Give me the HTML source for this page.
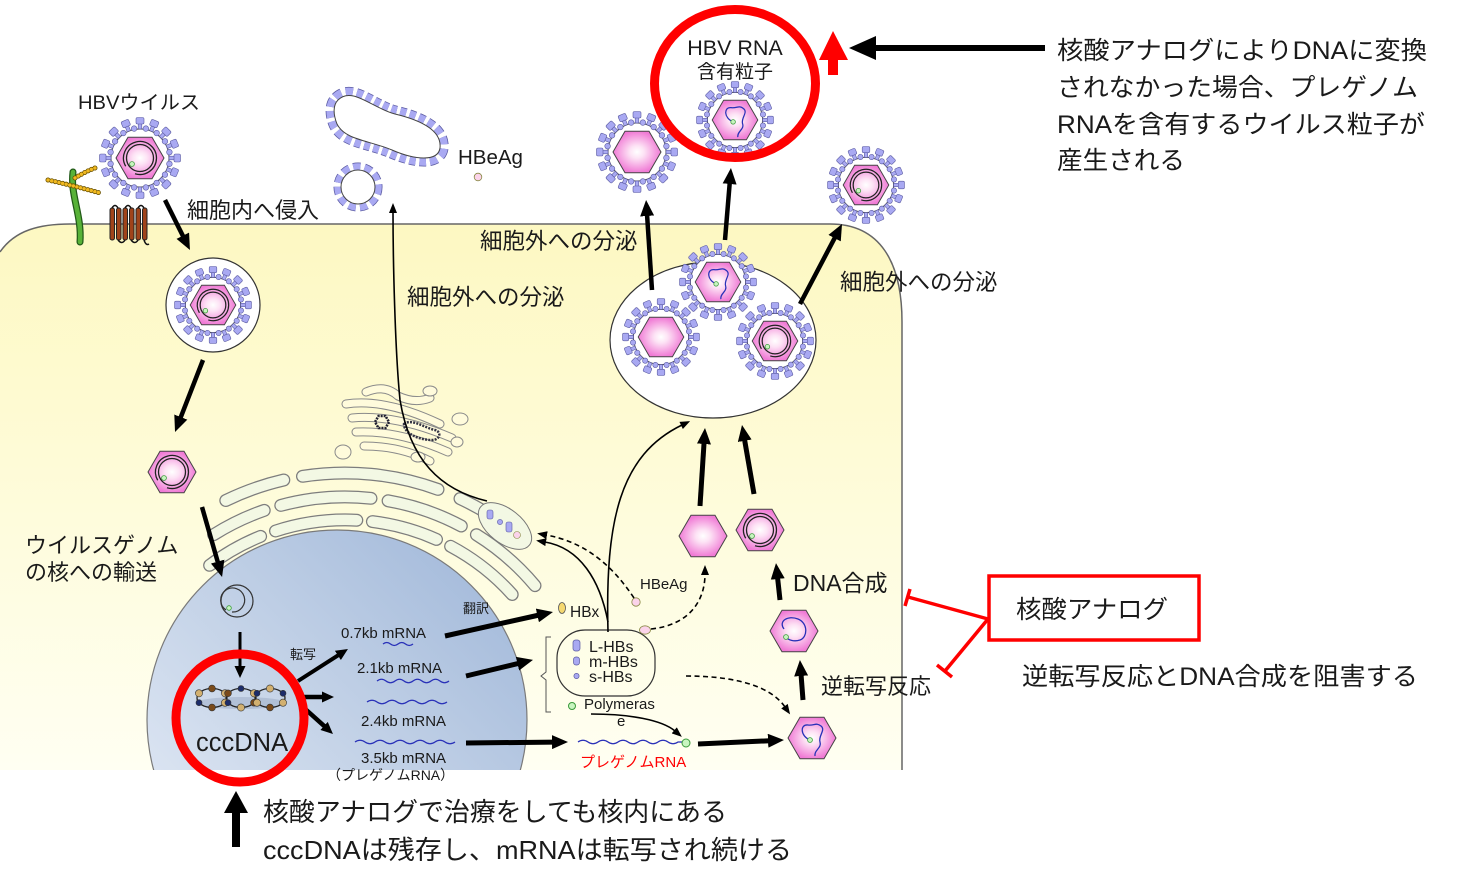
<!DOCTYPE html>
<html><head><meta charset="utf-8">
<style>
html,body{margin:0;padding:0;background:#fff;}
svg{display:block;}
text{font-family:"Liberation Sans","Noto Sans CJK JP",sans-serif;fill:#1a1a1a;}
</style></head><body>
<svg width="1472" height="879" viewBox="0 0 1472 879" xmlns="http://www.w3.org/2000/svg" xmlns:xlink="http://www.w3.org/1999/xlink">
<defs>
 <linearGradient id="cellg" x1="0" y1="0" x2="0" y2="1">
  <stop offset="0" stop-color="#fdf8c2"/><stop offset="1" stop-color="#fffff2"/>
 </linearGradient>
 <linearGradient id="nucg" x1="0" y1="1" x2="1" y2="0">
  <stop offset="0" stop-color="#e8eef8"/><stop offset="0.5" stop-color="#c3d2e7"/><stop offset="1" stop-color="#9db5d8"/>
 </linearGradient>
 <radialGradient id="pk" cx="0.5" cy="0.5" r="0.5">
  <stop offset="0" stop-color="#ffffff"/><stop offset="0.3" stop-color="#fde3f5"/><stop offset="1" stop-color="#f07ad5"/>
 </radialGradient>
 <clipPath id="cellclip"><rect x="0" y="0" width="1472" height="770"/></clipPath>
 <marker id="A" viewBox="0 0 16 14" markerWidth="16" markerHeight="14" refX="2" refY="7" orient="auto" markerUnits="userSpaceOnUse"><path d="M0,0L16,7L0,14z" fill="#000"/></marker>
 <marker id="M" viewBox="0 0 12 11" markerWidth="12" markerHeight="11" refX="1" refY="5.5" orient="auto" markerUnits="userSpaceOnUse"><path d="M0,0L12,5.5L0,11z" fill="#000"/></marker>
 <marker id="s" viewBox="0 0 10 8" markerWidth="10" markerHeight="8" refX="1" refY="4" orient="auto" markerUnits="userSpaceOnUse"><path d="M0,0L10,4L0,8z" fill="#000"/></marker>

 <g id="sp"><rect x="-1.8" y="-35" width="3.6" height="6" fill="#a9a9f2" stroke="#5a5aa0" stroke-width=".6"/><rect x="-4" y="-40.5" width="8" height="6.5" rx="1.5" fill="#a9a9f2" stroke="#5a5aa0" stroke-width=".6"/></g>
 <circle id="kn" cx="0" cy="-30" r="2.8" fill="#a9a9f2" stroke="#5a5aa0" stroke-width=".6"/>
 <g id="ring">
  <circle r="29" fill="#fff" stroke="#444" stroke-width="1"/>
  <use href="#kn" transform="rotate(11.25)"/><use href="#kn" transform="rotate(33.75)"/><use href="#kn" transform="rotate(56.25)"/><use href="#kn" transform="rotate(78.75)"/>
  <use href="#kn" transform="rotate(101.25)"/><use href="#kn" transform="rotate(123.75)"/><use href="#kn" transform="rotate(146.25)"/><use href="#kn" transform="rotate(168.75)"/>
  <use href="#kn" transform="rotate(191.25)"/><use href="#kn" transform="rotate(213.75)"/><use href="#kn" transform="rotate(236.25)"/><use href="#kn" transform="rotate(258.75)"/>
  <use href="#kn" transform="rotate(281.25)"/><use href="#kn" transform="rotate(303.75)"/><use href="#kn" transform="rotate(326.25)"/><use href="#kn" transform="rotate(348.75)"/>
  <use href="#sp" transform="rotate(0)"/><use href="#sp" transform="rotate(22.5)"/><use href="#sp" transform="rotate(45)"/><use href="#sp" transform="rotate(67.5)"/>
  <use href="#sp" transform="rotate(90)"/><use href="#sp" transform="rotate(112.5)"/><use href="#sp" transform="rotate(135)"/><use href="#sp" transform="rotate(157.5)"/>
  <use href="#sp" transform="rotate(180)"/><use href="#sp" transform="rotate(202.5)"/><use href="#sp" transform="rotate(225)"/><use href="#sp" transform="rotate(247.5)"/>
  <use href="#sp" transform="rotate(270)"/><use href="#sp" transform="rotate(292.5)"/><use href="#sp" transform="rotate(315)"/><use href="#sp" transform="rotate(337.5)"/>
 </g>
 <polygon id="hex" points="24,0 12,20.78 -12,20.78 -24,0 -12,-20.78 12,-20.78" fill="url(#pk)" stroke="#444" stroke-width="1"/>
 <g id="dna">
  <circle r="13.5" fill="none" stroke="#222" stroke-width="1.3"/>
  <path d="M-14.3,8.25 A16.5,16.5 0 1 1 -5,15.7" fill="none" stroke="#222" stroke-width="1.3"/>
  <circle cx="-8" cy="6" r="2.4" fill="#c8f5c0" stroke="#3a9a3a" stroke-width=".8"/>
 </g>
 <g id="rna">
  <path d="M-2,2 C-12,-2 -12,-14 -4,-13 C2,-12 4,-16 9,-12 C14,-8 6,-2 8,4 C10,10 2,12 3,18" fill="none" stroke="#2830b8" stroke-width="1.3"/>
  <circle cx="-2" cy="2" r="2.4" fill="#c8f5c0" stroke="#3a9a3a" stroke-width=".8"/>
 </g>
 <g id="rnaloop">
  <path d="M-10,-2 C-16,-10 -6,-16 4,-12 C14,-8 14,6 6,9 C0,11 -6,9 -8,6" fill="none" stroke="#2830b8" stroke-width="1.3"/>
  <circle cx="-8" cy="6" r="2.4" fill="#c8f5c0" stroke="#3a9a3a" stroke-width=".8"/>
 </g>
 <g id="vD"><use href="#ring"/><use href="#hex"/><use href="#dna"/></g>
 <g id="vE"><use href="#ring"/><use href="#hex"/></g>
 <g id="vR"><use href="#ring"/><use href="#hex"/><use href="#rna"/></g>
</defs>

<!-- cell -->
<path d="M0,252 C15,230 40,224 70,224 L830,224 C880,224 902,262 902,322 L902,770 L0,770 Z" fill="url(#cellg)"/>
<path d="M0,252 C15,230 40,224 70,224 L830,224 C880,224 902,262 902,322 L902,770" fill="none" stroke="#666" stroke-width="1.5"/>

<!-- nucleus -->
<g clip-path="url(#cellclip)">
 <circle cx="337" cy="720" r="190" fill="url(#nucg)" stroke="#7a7a7a" stroke-width="1.2"/>
</g>

<!-- ER -->
<g fill="none" stroke-linecap="round">
 <g stroke="#7d7d7d" stroke-width="13">
  <path d="M225.8,500.5 A272,272 0 0 1 283.8,480"/>
  <path d="M302.5,476.3 A272,272 0 0 1 438,489.4"/>
  <path d="M460,498.6 A272,272 0 0 1 519.9,536.6"/>
  <path d="M213.6,534.7 A248,248 0 0 1 264.2,510.4"/>
  <path d="M280.8,505.4 A248,248 0 0 1 371,498.3"/>
  <path d="M388.1,500.8 A248,248 0 0 1 461.3,526"/>
  <path d="M476.4,534.7 A248,248 0 0 1 535,585.6"/>
  <path d="M209.6,565.3 A225,225 0 0 1 260.6,536.4"/>
  <path d="M275.5,531 A225,225 0 0 1 356.8,520.2"/>
  <path d="M372.4,521.6 A225,225 0 0 1 436.5,539.4"/>
  <path d="M450.6,546.3 A225,225 0 0 1 512.2,594.5"/>
 </g>
 <g stroke="#f3f8e4" stroke-width="10.5">
  <path d="M225.8,500.5 A272,272 0 0 1 283.8,480"/>
  <path d="M302.5,476.3 A272,272 0 0 1 438,489.4"/>
  <path d="M460,498.6 A272,272 0 0 1 519.9,536.6"/>
  <path d="M213.6,534.7 A248,248 0 0 1 264.2,510.4"/>
  <path d="M280.8,505.4 A248,248 0 0 1 371,498.3"/>
  <path d="M388.1,500.8 A248,248 0 0 1 461.3,526"/>
  <path d="M476.4,534.7 A248,248 0 0 1 535,585.6"/>
  <path d="M209.6,565.3 A225,225 0 0 1 260.6,536.4"/>
  <path d="M275.5,531 A225,225 0 0 1 356.8,520.2"/>
  <path d="M372.4,521.6 A225,225 0 0 1 436.5,539.4"/>
  <path d="M450.6,546.3 A225,225 0 0 1 512.2,594.5"/>
 </g>
</g>
<!-- ER budding vesicle -->
<g transform="translate(505,526) rotate(38)">
 <ellipse rx="31" ry="17" fill="#f3f8e4" stroke="#777" stroke-width="1"/>
</g>
<rect x="487" y="510" width="6" height="9" rx="2" fill="#a9a9f2" stroke="#5a5aa0" stroke-width=".6"/>
<circle cx="500" cy="522" r="2.6" fill="#a9a9f2" stroke="#5a5aa0" stroke-width=".6"/>
<rect x="506" y="522" width="6" height="10" rx="2" fill="#a9a9f2" stroke="#5a5aa0" stroke-width=".6"/>
<circle cx="517" cy="535" r="3.5" fill="#fbd3ea" stroke="#884" stroke-width=".6"/>

<!-- Golgi -->
<g fill="none" stroke-linecap="round">
 <g stroke="#8a8a8a" stroke-width="9">
  <path d="M346,404 Q385,398 440,424"/>
  <path d="M352,418 Q395,414 452,438"/>
  <path d="M356,432 Q398,430 448,452"/>
  <path d="M364,446 Q400,446 430,461"/>
  <path d="M366,392 Q385,384 398,396 Q415,404 430,398"/>
 </g>
 <g stroke="#fffbdc" stroke-width="7">
  <path d="M346,404 Q385,398 440,424"/>
  <path d="M352,418 Q395,414 452,438"/>
  <path d="M356,432 Q398,430 448,452"/>
  <path d="M364,446 Q400,446 430,461"/>
  <path d="M366,392 Q385,384 398,396 Q415,404 430,398"/>
 </g>
</g>
<g fill="#fffbdc" stroke="#8a8a8a" stroke-width="1">
 <ellipse cx="430" cy="391" rx="7" ry="5"/>
 <ellipse cx="460" cy="419" rx="8" ry="6"/>
 <ellipse cx="343" cy="452" rx="8" ry="7"/>
 <ellipse cx="418" cy="457" rx="7" ry="5"/>
 <ellipse cx="457" cy="442" rx="6" ry="5"/>
</g>
<polygon points="389,422 385.5,428 378.5,428 375,422 378.5,416 385.5,416" fill="none" stroke="#223" stroke-width="2.5" stroke-dasharray="2 1"/>
<path d="M404,424 C412,418 425,428 435,430 C442,432 440,440 432,440 C420,440 404,434 404,424 Z" fill="none" stroke="#334" stroke-width="2.5" stroke-dasharray="2 1.2"/>

<!-- receptors -->
<path d="M73,172 C70,195 82,215 80,242" fill="none" stroke="#225a18" stroke-width="7" stroke-linecap="round"/>
<path d="M73,172 C70,195 82,215 80,242" fill="none" stroke="#58b238" stroke-width="4.5" stroke-linecap="round"/>
<g fill="none" stroke-linecap="round">
 <path d="M48,180 Q75,186 100,193" stroke="#6a5200" stroke-width="5" stroke-dasharray="0.1 3.6"/>
 <path d="M48,180 Q75,186 100,193" stroke="#f0b820" stroke-width="3.4" stroke-dasharray="0.1 3.6"/>
 <path d="M75,178 Q88,170 98,167" stroke="#6a5200" stroke-width="5" stroke-dasharray="0.1 3.6"/>
 <path d="M75,178 Q88,170 98,167" stroke="#f0b820" stroke-width="3.4" stroke-dasharray="0.1 3.6"/>
</g>
<g fill="#a0431a" stroke="#222" stroke-width="1">
 <rect x="110" y="208" width="4.5" height="32" rx="2"/>
 <rect x="116.5" y="208" width="4.5" height="32" rx="2"/>
 <rect x="123" y="208" width="4.5" height="32" rx="2"/>
 <rect x="129.5" y="208" width="4.5" height="32" rx="2"/>
 <rect x="136" y="208" width="4.5" height="32" rx="2"/>
 <rect x="142.5" y="208" width="4.5" height="32" rx="2"/>
</g>
<path d="M112,208 Q115,203 118,208 M125,208 Q128,203 131,208 M138,208 Q141,203 144,208 M118,240 Q122,245 125,240 M131,240 Q135,245 138,240 M144,240 Q146,246 149,244" fill="none" stroke="#111" stroke-width="1.5"/>

<!-- extracellular particles -->
<use href="#vD" transform="translate(140,158)"/>
<path d="M338,100 C352,86 372,108 395,114 C420,120 442,130 440,148 C438,162 415,160 392,150 C368,140 345,140 337,124 C333,114 333,105 338,100 Z" fill="none" stroke="#5a5aa0" stroke-width="17" stroke-dasharray="6 3.5"/>
<path d="M338,100 C352,86 372,108 395,114 C420,120 442,130 440,148 C438,162 415,160 392,150 C368,140 345,140 337,124 C333,114 333,105 338,100 Z" fill="none" stroke="#a9a9f2" stroke-width="15.5" stroke-dasharray="6 3.5"/>
<path d="M338,100 C352,86 372,108 395,114 C420,120 442,130 440,148 C438,162 415,160 392,150 C368,140 345,140 337,124 C333,114 333,105 338,100 Z" fill="#fff" stroke="#444" stroke-width="1"/>
<circle cx="358" cy="187" r="17" fill="none" stroke="#5a5aa0" stroke-width="15" stroke-dasharray="6 3.5"/>
<circle cx="358" cy="187" r="17" fill="none" stroke="#a9a9f2" stroke-width="13.5" stroke-dasharray="6 3.5"/>
<circle cx="358" cy="187" r="17" fill="#fff" stroke="#444" stroke-width="1"/>
<circle cx="478" cy="177" r="3.8" fill="#fbd3ea" stroke="#884" stroke-width=".8"/>
<use href="#vE" transform="translate(637,152)"/>
<use href="#vR" transform="translate(735,120) scale(.95)"/>
<use href="#vD" transform="translate(866,185) scale(.95)"/>

<!-- entry vesicle -->
<circle cx="213" cy="305" r="47" fill="#fff" stroke="#333" stroke-width="1.2"/>
<use href="#vD" transform="translate(213,305) scale(.95)"/>
<g transform="translate(172,472)"><use href="#hex"/><use href="#dna"/></g>

<!-- MVB -->
<ellipse cx="713" cy="340" rx="103" ry="78" fill="#fff" stroke="#333" stroke-width="1.2"/>
<use href="#vE" transform="translate(661,337) scale(.95)"/>
<use href="#vR" transform="translate(718,282) scale(.95)"/>
<use href="#vD" transform="translate(775,341) scale(.95)"/>

<!-- lower-right capsids -->
<use href="#hex" transform="translate(703,536)"/>
<g transform="translate(760,530)"><use href="#hex"/><use href="#dna"/></g>
<g transform="translate(794,631)"><use href="#hex"/><use href="#rnaloop"/></g>
<g transform="translate(812,738)"><use href="#hex"/><use href="#rna"/></g>

<!-- nucleus content -->
<circle cx="237" cy="601" r="16" fill="none" stroke="#333" stroke-width="1.2"/>
<path d="M226,610 A12,12 0 1 1 232,612" fill="none" stroke="#333" stroke-width="1.2"/>
<circle cx="229" cy="608" r="2.3" fill="#c8f5c0" stroke="#3a9a3a" stroke-width=".8"/>

<ellipse cx="241" cy="703" rx="45" ry="6" fill="#9aa9c4" opacity=".5"/>
<g fill="none" stroke="#222" stroke-width="1.3">
 <ellipse cx="212" cy="698" rx="15" ry="9.5"/>
 <ellipse cx="241" cy="698" rx="15" ry="9.5"/>
 <ellipse cx="270" cy="698" rx="15" ry="9.5"/>
</g>
<g stroke="#333" stroke-width=".6">
 <circle cx="225" cy="702.7" r="3.6" fill="#d2b070"/><circle cx="212" cy="707.5" r="3.4" fill="#7a4a1a"/><circle cx="199" cy="702.7" r="3" fill="#1c2c6a"/><circle cx="199" cy="693.3" r="3.6" fill="#d2b070"/><circle cx="212" cy="688.5" r="3.4" fill="#7a4a1a"/><circle cx="225" cy="693.3" r="3.6" fill="#d2b070"/>
 <circle cx="254" cy="702.7" r="3.4" fill="#7a4a1a"/><circle cx="241" cy="707.5" r="3.6" fill="#d2b070"/><circle cx="228" cy="702.7" r="3" fill="#1c2c6a"/><circle cx="228" cy="693.3" r="3.4" fill="#7a4a1a"/><circle cx="241" cy="688.5" r="3" fill="#1c2c6a"/><circle cx="254" cy="693.3" r="3.6" fill="#d2b070"/>
 <circle cx="283" cy="702.7" r="3.6" fill="#d2b070"/><circle cx="270" cy="707.5" r="3.4" fill="#7a4a1a"/><circle cx="257" cy="702.7" r="3.6" fill="#d2b070"/><circle cx="257" cy="693.3" r="3" fill="#1c2c6a"/><circle cx="270" cy="688.5" r="3.6" fill="#d2b070"/><circle cx="283" cy="693.3" r="3" fill="#1c2c6a"/>
</g>

<!-- mRNA waves -->
<g fill="none" stroke="#2830b8" stroke-width="1.3">
 <path d="M383,644 q3.75,-3 7.5,0 t7.5,0 t7.5,0 t7.5,0"/>
 <path d="M377,681 q4.5,-3.5 9,0 t9,0 t9,0 t9,0 t9,0 t9,0 t9,0 t9,0"/>
 <path d="M367,702 q5,-3.5 10,0 t10,0 t10,0 t10,0 t10,0 t10,0 t10,0 t10,0"/>
 <path d="M355,742 q5,-3.5 10,0 t10,0 t10,0 t10,0 t10,0 t10,0 t10,0 t10,0 t10,0 t10,0"/>
 <path d="M578,742 q5,-3.5 10,0 t10,0 t10,0 t10,0 t10,0 t10,0 t10,0 t10,0 t10,0 t10,0 l4,0"/>
</g>

<!-- HBs box -->
<rect x="557" y="630" width="98" height="66" rx="28" fill="none" stroke="#333" stroke-width="1.2"/>
<path d="M551,637 L546,637 L546,672 L541,676 L546,680 L546,712 L551,712" fill="none" stroke="#555" stroke-width="1"/>
<rect x="573" y="640" width="7" height="11" rx="2.5" fill="#a9a9f2" stroke="#5a5aa0" stroke-width=".7"/>
<rect x="573.5" y="657" width="6" height="8" rx="2.5" fill="#a9a9f2" stroke="#5a5aa0" stroke-width=".7"/>
<circle cx="576.5" cy="676" r="2.6" fill="#a9a9f2" stroke="#5a5aa0" stroke-width=".7"/>
<ellipse cx="562" cy="608" rx="3.5" ry="5.5" fill="#f5d870" stroke="#555" stroke-width=".8"/>
<circle cx="572" cy="706" r="3.5" fill="#c8f5c0" stroke="#3a9a3a" stroke-width="1"/>
<circle cx="686" cy="743" r="4" fill="#c8f5c0" stroke="#3a9a3a" stroke-width="1"/>
<circle cx="636" cy="602" r="4.2" fill="#fbd3ea" stroke="#884" stroke-width=".8"/>
<ellipse cx="645" cy="630" rx="5.5" ry="4.2" fill="#fbd3ea" stroke="#884" stroke-width=".8"/>

<!-- thick arrows -->
<g stroke="#000" fill="none">
 <line x1="165" y1="200" x2="183.7" y2="237.5" stroke-width="4.5" marker-end="url(#A)"/>
 <line x1="203" y1="360" x2="180.1" y2="418.9" stroke-width="4.5" marker-end="url(#A)"/>
 <line x1="202" y1="507" x2="218.2" y2="563.5" stroke-width="4.5" marker-end="url(#A)"/>
 <line x1="240" y1="632" x2="240" y2="667" stroke-width="3" marker-end="url(#M)"/>
 <line x1="298" y1="681" x2="338.7" y2="654.9" stroke-width="4" marker-end="url(#M)"/>
 <line x1="300" y1="697" x2="323" y2="697" stroke-width="4.5" marker-end="url(#M)"/>
 <line x1="303" y1="707" x2="324.8" y2="726.6" stroke-width="4.5" marker-end="url(#M)"/>
 <line x1="445" y1="636" x2="539.3" y2="615" stroke-width="5" marker-end="url(#A)"/>
 <line x1="466" y1="676" x2="519.4" y2="663.2" stroke-width="5" marker-end="url(#A)"/>
 <line x1="466" y1="743" x2="554" y2="742.1" stroke-width="5" marker-end="url(#A)"/>
 <line x1="698" y1="744" x2="770" y2="740.7" stroke-width="5" marker-end="url(#A)"/>
 <line x1="803" y1="700" x2="801" y2="674" stroke-width="5" marker-end="url(#A)"/>
 <line x1="780" y1="600" x2="777.5" y2="577" stroke-width="5" marker-end="url(#A)"/>
 <line x1="700" y1="506" x2="704.1" y2="442" stroke-width="5" marker-end="url(#A)"/>
 <line x1="754" y1="494" x2="744.4" y2="438.8" stroke-width="5" marker-end="url(#A)"/>
 <line x1="652" y1="290" x2="647" y2="214" stroke-width="4.5" marker-end="url(#A)"/>
 <line x1="725" y1="240" x2="729.8" y2="182" stroke-width="4.5" marker-end="url(#A)"/>
 <line x1="800" y1="304" x2="835.5" y2="236.4" stroke-width="4.5" marker-end="url(#A)"/>
</g>

<!-- thin arrows -->
<g fill="none" stroke="#000" stroke-width="1.6">
 <path d="M487,501 C440,490 410,460 400,400 C395,350 393,260 393,212" marker-end="url(#s)"/>
 <path d="M608,632 C605,520 620,455 682,425" marker-end="url(#s)"/>
 <path d="M608,622 C600,580 580,548 545,542" marker-end="url(#s)"/>
 <path d="M591,714 C630,714 662,720 675,731" marker-end="url(#s)"/>
</g>
<g fill="none" stroke="#000" stroke-width="1.6" stroke-dasharray="5 3.5">
 <path d="M634,598 C612,565 585,542 546,535" marker-end="url(#s)"/>
 <path d="M651,629 C690,625 705,600 705,574" marker-end="url(#s)"/>
 <path d="M686,676 C740,676 772,688 785,707" marker-end="url(#s)"/>
</g>

<!-- red circles -->
<circle cx="240" cy="718" r="64" fill="none" stroke="#f00" stroke-width="9"/>
<ellipse cx="735" cy="83.5" rx="80.5" ry="74" fill="none" stroke="#f00" stroke-width="9"/>
<!-- red up arrow -->
<rect x="828" y="58" width="10" height="17" fill="#f00"/>
<polygon points="819,60 833,31 848,60" fill="#f00"/>
<!-- black left arrow -->
<line x1="1045" y1="48" x2="872" y2="48" stroke="#000" stroke-width="6"/>
<polygon points="849,48 876,36 876,60" fill="#000"/>
<!-- bottom up arrow -->
<rect x="232" y="810" width="8" height="37" fill="#000"/>
<polygon points="224,813 236,791 248,813" fill="#000"/>

<!-- nucleic acid analog box -->
<rect x="989" y="576" width="210" height="64" fill="#fff" stroke="#f00" stroke-width="3.5"/>
<g stroke="#f00" stroke-width="3.5" fill="none">
 <line x1="988" y1="619" x2="908" y2="597"/>
 <line x1="910" y1="589" x2="905" y2="606"/>
 <line x1="988" y1="619" x2="945" y2="671"/>
 <line x1="937" y1="665" x2="952" y2="677"/>
</g>

<!-- texts -->
<text x="78" y="109" font-size="19.5" textLength="122" lengthAdjust="spacingAndGlyphs">HBVウイルス</text>
<text x="187" y="218" font-size="22">細胞内へ侵入</text>
<text x="458" y="164" font-size="20.5">HBeAg</text>
<text x="480" y="249" font-size="22.5">細胞外への分泌</text>
<text x="407" y="305" font-size="22.5">細胞外への分泌</text>
<text x="840" y="290" font-size="22.5">細胞外への分泌</text>
<text x="735" y="55" font-size="21.5" text-anchor="middle">HBV RNA</text>
<text x="735" y="78" font-size="19" text-anchor="middle">含有粒子</text>

<text x="1057" y="59" font-size="25" textLength="370" lengthAdjust="spacingAndGlyphs">核酸アナログによりDNAに変換</text>
<text x="1057" y="96" font-size="25" textLength="361" lengthAdjust="spacingAndGlyphs">されなかった場合、プレゲノム</text>
<text x="1057" y="133" font-size="25" textLength="368" lengthAdjust="spacingAndGlyphs">RNAを含有するウイルス粒子が</text>
<text x="1057" y="169" font-size="25" textLength="128" lengthAdjust="spacingAndGlyphs">産生される</text>

<text x="25" y="553" font-size="22">ウイルスゲノム</text>
<text x="25" y="580" font-size="22">の核への輸送</text>
<text x="196" y="751" font-size="25.5">cccDNA</text>
<text x="290" y="659" font-size="13">転写</text>
<text x="463" y="613" font-size="13">翻訳</text>
<text x="341" y="638" font-size="15">0.7kb mRNA</text>
<text x="357" y="673" font-size="15">2.1kb mRNA</text>
<text x="361" y="726" font-size="15">2.4kb mRNA</text>
<text x="361" y="763" font-size="15">3.5kb mRNA</text>
<text x="327" y="780" font-size="14">（プレゲノムRNA）</text>
<text x="570" y="617" font-size="15.5">HBx</text>
<text x="589" y="652" font-size="16">L-HBs</text>
<text x="589" y="667" font-size="16">m-HBs</text>
<text x="589" y="682" font-size="16">s-HBs</text>
<text x="584" y="709" font-size="15">Polymeras</text>
<text x="617" y="726" font-size="15">e</text>
<text x="580" y="767" font-size="15" style="fill:#f00">プレゲノムRNA</text>
<text x="640" y="589" font-size="15">HBeAg</text>
<text x="793" y="591" font-size="23">DNA合成</text>
<text x="821" y="694" font-size="22">逆転写反応</text>
<text x="1016" y="618" font-size="25" textLength="152" lengthAdjust="spacingAndGlyphs">核酸アナログ</text>
<text x="1022" y="685" font-size="25" textLength="396" lengthAdjust="spacingAndGlyphs">逆転写反応とDNA合成を阻害する</text>
<text x="263" y="821" font-size="26" textLength="464" lengthAdjust="spacingAndGlyphs">核酸アナログで治療をしても核内にある</text>
<text x="263" y="859" font-size="26" textLength="529" lengthAdjust="spacingAndGlyphs">cccDNAは残存し、mRNAは転写され続ける</text>
</svg>
</body></html>
